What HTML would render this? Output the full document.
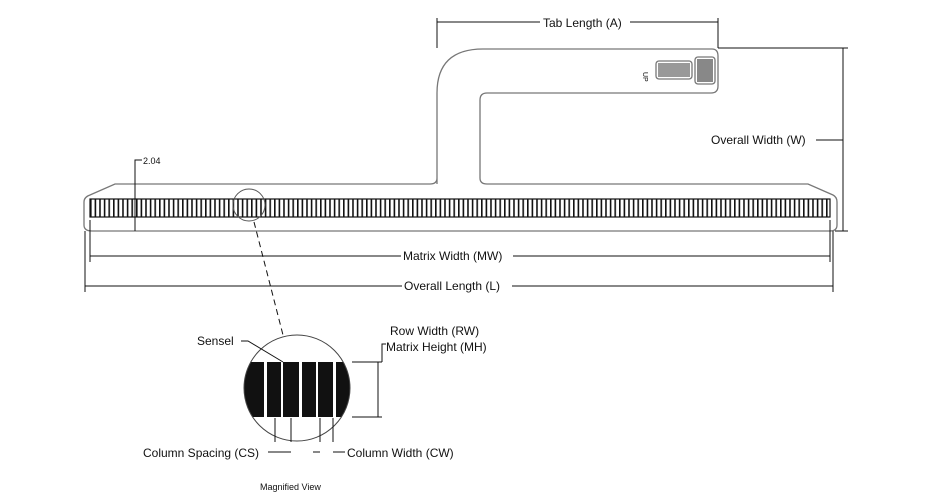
<!DOCTYPE html>
<html><head><style>body{margin:0;background:#fff}svg{display:block}text{font-family:"Liberation Sans",sans-serif;fill:#111}</style></head><body>
<svg width="925" height="500" viewBox="0 0 925 500" xmlns="http://www.w3.org/2000/svg">
<defs>
<pattern id="st" x="90" y="0" width="4.6" height="10" patternUnits="userSpaceOnUse"><rect x="0" y="0" width="1.6" height="10" fill="#111"/></pattern>
<clipPath id="mc"><circle cx="297" cy="388" r="53"/></clipPath>
</defs>
<g fill="none" stroke="#777" stroke-width="1.3">
<path d="M437,184 L437,93 Q437,49 483,49 L712,49 Q718,49 718,56 L718,86 Q718,93 711,93 L487,93 Q480,93 480,100 L480,178 Q480,184 487,184 L808,184 L833,195 Q837,197 837,202 L837,225 Q837,231 830,231 L92,231 Q84,231 84,225 L84,202 Q84,197 90,195 L115,184 L430,184 Q437,184 437,178"/>
<rect x="656" y="61" width="36" height="18" rx="3"/>
<rect x="695" y="57" width="20" height="27" rx="3"/>
</g>
<rect x="658" y="63" width="32" height="14" fill="#999"/>
<rect x="697" y="59" width="16" height="23" fill="#888"/>
<text x="643" y="72" font-size="7" transform="rotate(90 643 72)">UP</text>
<rect x="90" y="199" width="740" height="18" fill="#fff"/>
<rect x="90" y="199" width="740" height="18" fill="url(#st)" stroke="#111" stroke-width="1.2"/>
<g stroke="#111" stroke-width="1" fill="none">
<path d="M437,48 V18 M718,48 V18 M437,22 H718"/>
<path d="M718,48 H848 M835,231 H848 M843,48 V231 M816,140 H843"/>
<path d="M90,220 V262 M830,220 V262 M90,256 H830"/>
<path d="M85,231 V292 M833,231 V292 M85,286 H833"/>
<path d="M135,231 V160 H142"/>
<circle cx="249" cy="205" r="16" stroke="#555"/>
<path d="M254,222 L283,335" stroke-dasharray="6,4"/>
</g>
<rect x="540" y="14" width="90" height="16" fill="#fff"/>
<text x="543" y="27" font-size="12">Tab Length (A)</text>
<rect x="708" y="131" width="108" height="16" fill="#fff"/>
<text x="711" y="144" font-size="12">Overall Width (W)</text>
<rect x="401" y="249" width="112" height="14" fill="#fff"/>
<text x="403" y="260" font-size="12">Matrix Width (MW)</text>
<rect x="402" y="279" width="110" height="14" fill="#fff"/>
<text x="404" y="290" font-size="12">Overall Length (L)</text>
<text x="143" y="164" font-size="9">2.04</text>
<g clip-path="url(#mc)">
<rect x="240" y="362" width="115" height="55" fill="#111"/>
<g fill="#fff"><rect x="264" y="362" width="3" height="55"/><rect x="281" y="362" width="2" height="55"/><rect x="299" y="362" width="3" height="55"/><rect x="316" y="362" width="2" height="55"/><rect x="333" y="362" width="3" height="55"/></g>
</g>
<g stroke="#111" stroke-width="1" fill="none">
<circle cx="297" cy="388" r="53" stroke="#444"/>
<path d="M352,362 H382 M352,417 H382 M378,362 V417 M382,362 V344 H386"/>
<path d="M241,341 H248 L283,362"/>
<path d="M275,418 V442 M291,418 V442 M320,418 V442 M333,418 V442"/>
<path d="M268,452 H291 M313,452 H320 M333,452 H345"/>
</g>
<text x="390" y="335" font-size="12">Row Width (RW)</text>
<text x="386" y="351" font-size="12">Matrix Height (MH)</text>
<text x="197" y="345" font-size="12">Sensel</text>
<text x="143" y="457" font-size="12">Column Spacing (CS)</text>
<text x="347" y="457" font-size="12">Column Width (CW)</text>
<text x="260" y="490" font-size="9">Magnified View</text>
</svg>
</body></html>
